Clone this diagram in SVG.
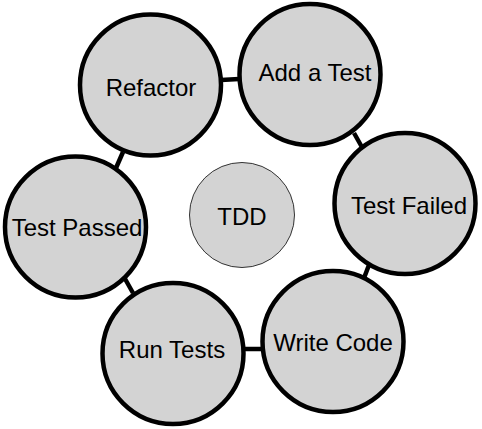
<svg xmlns="http://www.w3.org/2000/svg" width="482" height="429" viewBox="0 0 482 429">
<style>
.n{fill:#d3d3d3;stroke:#000;stroke-width:4.5}
.c{fill:#d3d3d3;stroke:#333;stroke-width:1}
.t{font-family:"Liberation Sans",Arial,sans-serif;font-size:24px;fill:#000;text-anchor:middle;dominant-baseline:central}
.e{stroke:#000;stroke-width:4.5;fill:none}
</style>
<rect width="482" height="429" fill="#fff"/>
<g id="connectors">
<line class="e" x1="221" y1="80" x2="239" y2="79"/>
<line class="e" x1="354" y1="133" x2="363" y2="149"/>
<line class="e" x1="369" y1="265" x2="364" y2="278"/>
<line class="e" x1="243" y1="349" x2="263" y2="349"/>
<line class="e" x1="124" y1="277" x2="133" y2="293"/>
<line class="e" x1="123" y1="152" x2="116" y2="168"/>
</g>
<g id="refactor"><circle class="n" cx="150.5" cy="85" r="70.5"/><text class="t" x="151" y="87">Refactor</text></g>
<g id="add-a-test"><circle class="n" cx="310" cy="74.5" r="70.5"/><text class="t" x="315" y="72">Add a Test</text></g>
<g id="test-failed"><circle class="n" cx="405" cy="203.5" r="70.5"/><text class="t" x="409" y="205">Test Failed</text></g>
<g id="write-code"><circle class="n" cx="333" cy="341.5" r="70.5"/><text class="t" x="333" y="342">Write Code</text></g>
<g id="run-tests"><circle class="n" cx="173" cy="353.5" r="70.5"/><text class="t" x="172" y="349">Run Tests</text></g>
<g id="test-passed"><circle class="n" cx="75.5" cy="227" r="70.5"/><text class="t" x="77" y="227">Test Passed</text></g>
<g id="tdd"><circle class="c" cx="242" cy="215" r="52.5"/><text class="t" x="242" y="216">TDD</text></g>
</svg>
